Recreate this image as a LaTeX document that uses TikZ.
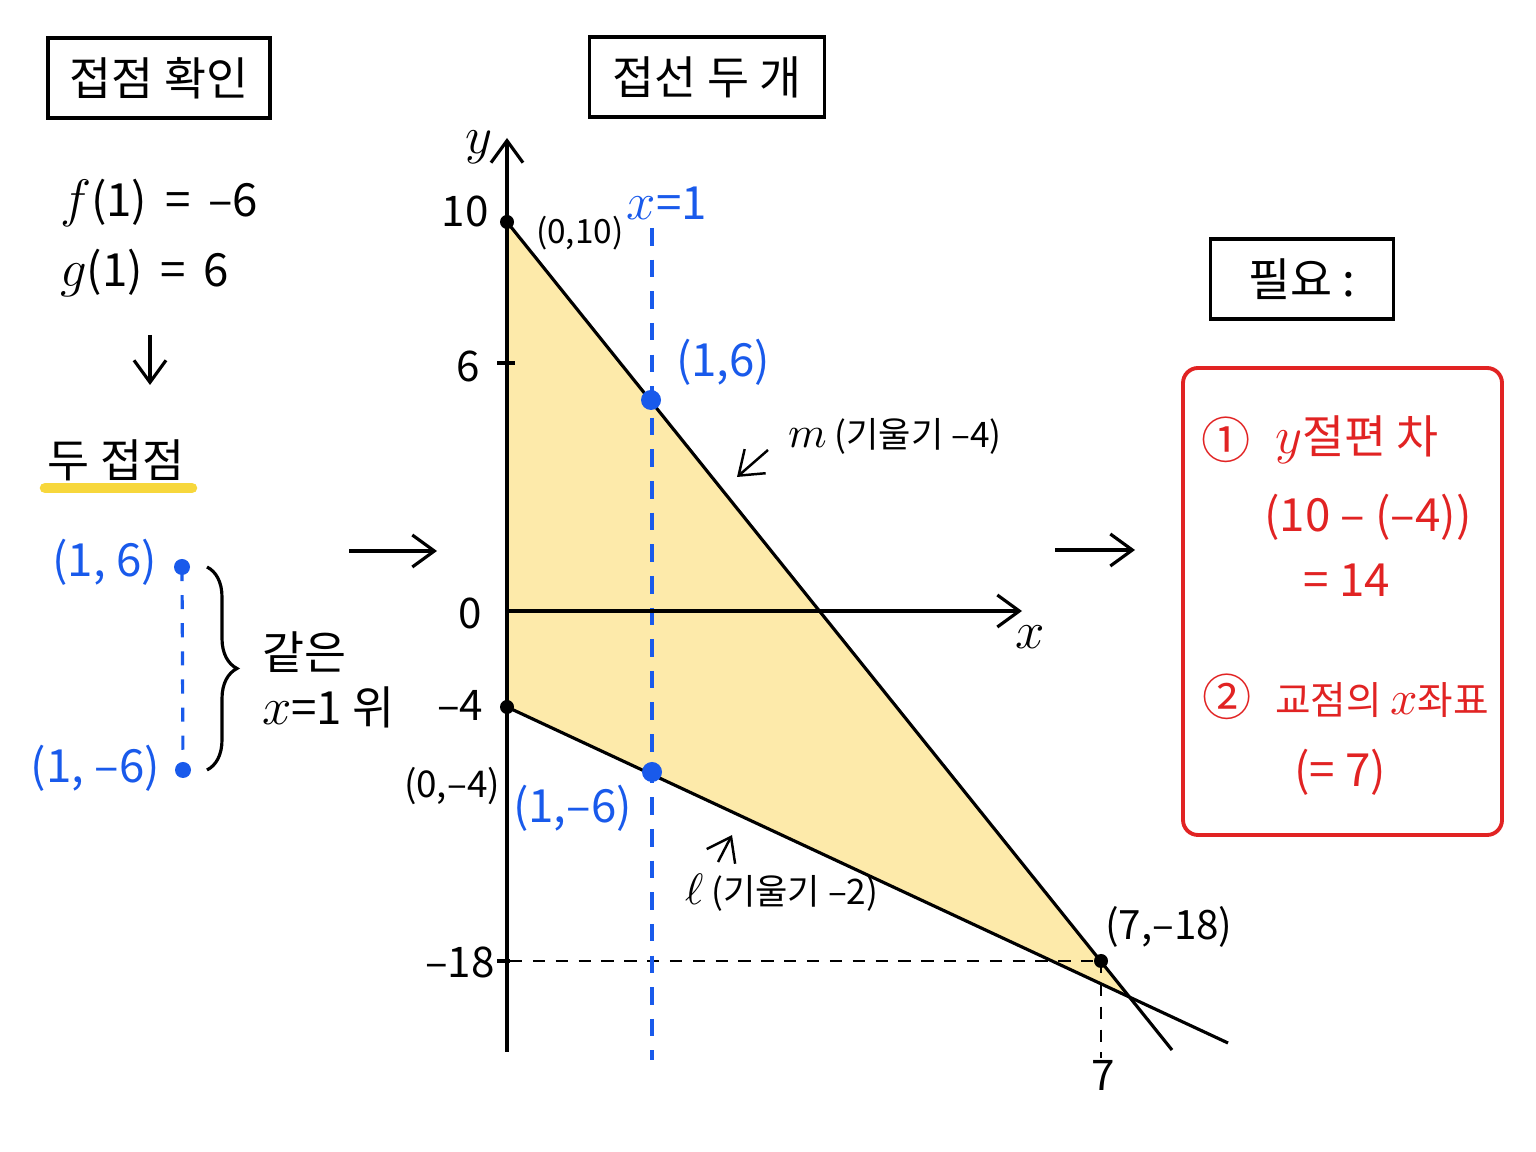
\documentclass[tikz,border=0pt]{standalone}
\usepackage{fontspec}
\setmainfont{Noto Sans CJK KR}
\usetikzlibrary{arrows.meta,decorations.pathreplacing}

\definecolor{ptblue}{RGB}{25,90,235}
\definecolor{ptred}{RGB}{225,35,35}
\definecolor{areafill}{RGB}{253,234,170}
\definecolor{hilite}{RGB}{247,215,60}

\newcommand{\mvar}[1]{\scalebox{1.25}{$#1$}}

\tikzset{
  titlebox/.style={draw, line width=1.1pt, minimum width=#1, minimum height=.8cm,
    inner sep=0pt, font=\fontsize{13}{15}\selectfont},
  eqtext/.style={inner sep=1pt, font=\fontsize{13}{15}\selectfont},
  axlbl/.style={inner sep=1pt, font=\fontsize{12}{14}\selectfont},
  ptlbl/.style={inner sep=1pt, font=\fontsize{9.5}{11}\selectfont},
  slopelbl/.style={inner sep=1pt, font=\fontsize{10}{12}\selectfont},
  bluelbl/.style={inner sep=1pt, text=ptblue, font=\fontsize{13}{15}\selectfont},
  redlbl/.style={inner sep=1pt, text=ptred, font=\fontsize{13}{15}\selectfont},
  helper/.style={dash pattern=on 3.5pt off 3pt, line width=.8pt}
}

\begin{document}
\begin{tikzpicture}[>={Straight Barb[length=2.2mm,width=3.2mm]}, line width=.9pt]
  \useasboundingbox (0,0) rectangle (15.36,11.52);

  % titles
  \node[titlebox=2.22cm] (tleft) at (1.59,10.74) {접점 확인};
  \node[titlebox=2.35cm] (tmid) at (7.07,10.75) {접선 두 개};
  \node[titlebox=1.83cm] (tright) at (13.02,8.73) {필요 :\hspace{.5cm}};

  % left column
  \node[eqtext, anchor=west] (feq) at (0.55,9.49) {\mvar{f}(1) \,=\, –6};
  \node[eqtext, anchor=west] (geq) at (0.55,8.79) {\mvar{g}(1) \,=\, 6};
  \coordinate (dtop) at (1.50,8.17);
  \coordinate (dbot) at (1.50,7.67);
  \draw[->] (dtop) -- (dbot);
  \node[eqtext] (tp) at (1.16,6.92) {두 접점};
  \draw[hilite, line width=3pt, line cap=round] (0.45,6.64) -- (1.92,6.64);

  \coordinate (lp) at (1.82,5.85);
  \coordinate (lq) at (1.83,3.82);
  \node[bluelbl, anchor=east] (lplbl) at (1.62,5.90) {(1, 6)};
  \node[bluelbl, anchor=east] (lqlbl) at (1.65,3.84) {(1, –6)};
  \draw[ptblue, dash pattern=on 4pt off 4pt] (lp) -- (lq);
  \fill[ptblue] (lp) circle (.08);
  \fill[ptblue] (lq) circle (.08);
  \draw[decorate, decoration={brace, amplitude=.3cm}] (2.07,5.85) -- (2.07,3.82);
  \node[eqtext, anchor=west] (same) at (2.57,5.00) {같은};
  \node[eqtext, anchor=west] (online) at (2.57,4.45) {\mvar{x}=1 위};

  \coordinate (g1a) at (3.49,6.01);
  \coordinate (g1b) at (4.37,6.01);
  \draw[->] (g1a) -- (g1b);
  \coordinate (g2a) at (10.55,6.02);
  \coordinate (g2b) at (11.35,6.02);
  \draw[->] (g2a) -- (g2b);

  % graph
  \coordinate (O) at (5.07,5.41);
  \coordinate (A) at (5.07,9.30);
  \coordinate (B) at (5.07,4.45);
  \coordinate (P) at (6.51,7.52);
  \coordinate (Q) at (6.52,3.80);
  \coordinate (R) at (11.01,1.91);
  \coordinate (M) at (11.72,1.02);
  \coordinate (L) at (12.28,1.09);
  \coordinate (X) at (intersection of A--M and B--L);

  \fill[areafill] (A) -- (X) -- (B) -- cycle;

  \draw[helper] (5.10,1.91) -- (R);
  \draw[helper] (R) -- (11.01,0.94);
  \draw[ptblue, dash pattern=on 5pt off 4pt] (6.52,9.24) -- (6.52,0.92);

  \draw[->] (5.07,1.00) -- (5.07,10.14);
  \draw[->] (O) -- (10.22,5.41);
  \draw (4.97,7.89) -- (5.15,7.89);
  \draw (4.97,1.91) -- (5.10,1.91);

  \draw (A) -- (M);
  \draw (B) -- (L);

  \fill (A) circle (.07);
  \fill (B) circle (.07);
  \fill (R) circle (.07);
  \fill[ptblue] (P) circle (.1);
  \fill[ptblue] (Q) circle (.1);

  \node[axlbl] (ylbl) at (4.79,10.05) {\mvar{y}};
  \node[axlbl] (xlbl) at (10.30,5.15) {\mvar{x}};
  \node[axlbl] (t10) at (4.65,9.41) {10};
  \node[axlbl] (t6) at (4.68,7.86) {6};
  \node[axlbl] (t0) at (4.70,5.39) {0};
  \node[axlbl] (tm4) at (4.60,4.47) {–4};
  \node[axlbl] (tm18) at (4.60,1.90) {–18};
  \node[axlbl] (t7) at (11.03,0.77) {7};

  \node[ptlbl, anchor=west] (Albl) at (5.31,9.19) {(0,10)};
  \node[ptlbl, font=\fontsize{10.5}{12}\selectfont] (Blbl) at (4.52,3.66) {(0,–4)};
  \node[bluelbl, anchor=west] (Plbl) at (6.71,7.90) {(1,6)};
  \node[bluelbl, anchor=east] (Qlbl) at (6.37,3.44) {(1,–6)};
  \node[bluelbl] (xone) at (6.67,9.49) {\mvar{x}=1};
  \node[axlbl, font=\fontsize{11.5}{13}\selectfont, anchor=west] (Rlbl) at (11.00,2.25) {(7,–18)};

  \node[slopelbl, anchor=west] (mlbl) at (7.83,7.16) {\mvar{m} (기울기 –4)};
  \coordinate (ma) at (7.68,7.02);
  \coordinate (mb) at (7.37,6.75);
  \draw[->, line width=.7pt] (ma) -- (mb);
  \node[slopelbl, anchor=west] (llbl) at (6.80,2.59) {\mvar{\ell} (기울기 –2)};
  \coordinate (la) at (7.18,2.90);
  \coordinate (lb) at (7.32,3.17);
  \draw[->, line width=.7pt] (la) -- (lb);

  % needed
  \node[draw=ptred, line width=1.1pt, rounded corners=.15cm, minimum width=3.19cm,
    minimum height=4.67cm] (need) at (13.425,5.505) {};
  \node[redlbl, font=\fontsize{14}{16}\selectfont] (c1) at (12.26,7.12) {①};
  \node[redlbl, anchor=west] (n1) at (12.70,7.12) {\mvar{y}절편 차};
  \node[redlbl] (n1a) at (13.68,6.35) {(10 – (–4))};
  \node[redlbl] (n1b) at (13.47,5.72) {= 14};
  \node[redlbl, font=\fontsize{14}{16}\selectfont] (c2) at (12.27,4.55) {②};
  \node[redlbl, font=\fontsize{11}{13}\selectfont, anchor=west] (n2) at (12.70,4.52) {교점의 \mvar{x}좌표};
  \node[redlbl] (n2a) at (13.40,3.80) {(= 7)};
\end{tikzpicture}
\end{document}
